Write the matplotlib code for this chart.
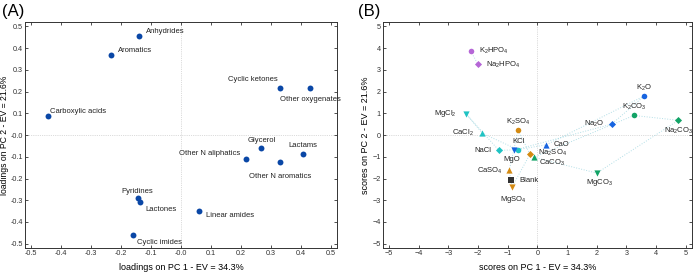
import numpy as np
import matplotlib
matplotlib.use("Agg")
import matplotlib.pyplot as plt

plt.rcParams['font.family'] = ['Liberation Sans', 'DejaVu Sans']
plt.rcParams['mathtext.default'] = 'regular'

# --- Panel A: loadings ---
load_names = ['Anhydrides', 'Aromatics', 'Carboxylic acids', 'Cyclic ketones',
              'Other oxygenates', 'Glycerol', 'Lactams', 'Other N aliphatics',
              'Other N aromatics', 'Pyridines', 'Lactones', 'Linear amides',
              'Cyclic imides']
load_pc1 = [-0.14, -0.235, -0.445, 0.33, 0.43, 0.268, 0.405, 0.215,
            0.33, -0.145, -0.138, 0.06, -0.16]
load_pc2 = [0.455, 0.37, 0.087, 0.218, 0.216, -0.058, -0.088, -0.11,
            -0.125, -0.29, -0.31, -0.35, -0.462]

# --- Panel B: scores ---
score_names = ['K$_2$HPO$_4$', 'Na$_2$HPO$_4$',
               'KCl', 'NaCl', 'CaCl$_2$', 'MgCl$_2$',
               'K$_2$O', 'Na$_2$O', 'CaO', 'MgO',
               'K$_2$SO$_4$', 'Na$_2$SO$_4$', 'CaSO$_4$', 'MgSO$_4$',
               'K$_2$CO$_3$', 'Na$_2$CO$_3$', 'CaCO$_3$', 'MgCO$_3$',
               'Blank']
score_pc1 = [-2.25, -2.0,
             -0.65, -1.3, -1.85, -2.4,
             3.6, 2.5, 0.3, -0.8,
             -0.65, -0.25, -0.95, -0.85,
             3.25, 4.75, -0.12, 2.0,
             -0.9]
score_pc2 = [3.87, 3.25,
             -0.68, -0.7, 0.08, 0.97,
             1.8, 0.5, -0.45, -0.7,
             0.22, -0.88, -1.63, -2.38,
             0.9, 0.68, -1.02, -1.75,
             -2.05]
score_group = ['phos', 'phos',
               'cl', 'cl', 'cl', 'cl',
               'ox', 'ox', 'ox', 'ox',
               'so4', 'so4', 'so4', 'so4',
               'co3', 'co3', 'co3', 'co3',
               'blank']
score_marker = ['o', 'D',
                'o', 'D', '^', 'v',
                'o', 'D', '^', 'v',
                'o', 'D', '^', 'v',
                'o', 'D', '^', 'v',
                's']

group_colors = {'phos': '#b566d6', 'cl': '#1fc3c3', 'ox': '#1764e0',
                'so4': '#d48a12', 'co3': '#12a366', 'blank': '#333333'}

# label offsets (points) and alignment
load_offsets = [(5, 3, 'left'), (5, 3, 'left'), (2, 3, 'left'), (-2, 6, 'right'),
                (0, -8, 'center'), (0, 5, 'center'), (0, 6, 'center'),
                (-4, 4, 'right'), (0, -10, 'center'), (0, 5, 'center'),
                (4, -5, 'left'), (5, -3, 'left'), (3, -5, 'left')]
score_offsets = [(6, 0, 'left'), (6, 0, 'left'),
                 (0, 6, 'center'), (-5, 0, 'right'), (-6, 0, 'right'), (-7, 0, 'right'),
                 (0, 6, 'center'), (-5, 0, 'right'), (5, 0, 'left'), (-1, -7, 'center'),
                 (0, 6, 'center'), (6, 1, 'left'), (-5, 0, 'right'), (1, -9, 'center'),
                 (0, 6, 'center'), (0, -8, 'center'), (4, -4, 'left'), (2, -7, 'center'),
                 (6, -1, 'left')]

fig = plt.figure(figsize=(6.97, 2.72), dpi=100)
axA = fig.add_axes([0.036, 0.088, 0.4476, 0.831])
axB = fig.add_axes([0.5495, 0.088, 0.443, 0.831])


def style_axis(ax):
    ax.tick_params(direction='in', top=True, right=True, labelsize=5.2,
                   length=2.5, width=0.6, pad=1.5, colors='#333333')
    for s in ax.spines.values():
        s.set_linewidth(0.7)
        s.set_color('#333333')
    ax.axhline(0, color='#bbbbbb', lw=0.5, ls=':', zorder=0)
    ax.axvline(0, color='#bbbbbb', lw=0.5, ls=':', zorder=0)


# Panel A
style_axis(axA)
axA.scatter(load_pc1, load_pc2, s=18, color='#0a47a6', zorder=3, linewidths=0)
for name, x, y, (dx, dy, ha) in zip(load_names, load_pc1, load_pc2, load_offsets):
    axA.annotate(name, (x, y), xytext=(dx, dy), textcoords='offset points',
                 ha=ha, va='center', fontsize=5.5, color='#222222')
axA.set_xlim(-0.52, 0.52)
axA.set_ylim(-0.52, 0.52)
axA.set_xticks(np.arange(-0.5, 0.51, 0.1))
axA.set_yticks(np.arange(-0.5, 0.51, 0.1))
axA.xaxis.set_major_formatter(plt.FuncFormatter(lambda v, p: f'{v:.1f}'))
axA.yaxis.set_major_formatter(plt.FuncFormatter(lambda v, p: f'{v:.1f}'))
axA.set_xlabel('loadings on PC 1 - EV = 34.3%', fontsize=6.5, labelpad=4)
axA.set_ylabel('loadings on PC 2 - EV = 21.6%', fontsize=6.2, labelpad=1)
fig.text(0.003, 0.985, '(A)', fontsize=12, va='top', ha='left')

# Panel B: faint connecting lines within each group
for g in ['phos', 'cl', 'ox', 'so4', 'co3']:
    idx = [i for i, gg in enumerate(score_group) if gg == g]
    xs = [score_pc1[i] for i in idx]
    ys = [score_pc2[i] for i in idx]
    if len(idx) > 2:
        order = [0, 1, 3, 2, 0]
        xs = [xs[k] for k in order]
        ys = [ys[k] for k in order]
    axB.plot(xs, ys, ls=':', lw=0.7, color='#9fd6e0', alpha=0.8, zorder=1)

style_axis(axB)
for name, x, y, g, m, (dx, dy, ha) in zip(score_names, score_pc1, score_pc2,
                                           score_group, score_marker, score_offsets):
    size = {'o': 16, 'D': 13, 's': 14}.get(m, 20)
    axB.scatter(x, y, s=size, marker=m, color=group_colors[g], zorder=3, linewidths=0)
    axB.annotate(name, (x, y), xytext=(dx, dy), textcoords='offset points',
                 ha=ha, va='center', fontsize=5.5, color='#222222')
axB.set_xlim(-5.2, 5.2)
axB.set_ylim(-5.2, 5.2)
axB.set_xticks(np.arange(-5, 6, 1))
axB.set_yticks(np.arange(-5, 6, 1))
axB.set_xlabel('scores on PC 1 - EV = 34.3%', fontsize=6.5, labelpad=4)
axB.set_ylabel('scores on PC 2 - EV = 21.6%', fontsize=6.5, labelpad=2)
fig.text(0.513, 0.985, '(B)', fontsize=12, va='top', ha='left')

fig.savefig('out.png', dpi=100)
